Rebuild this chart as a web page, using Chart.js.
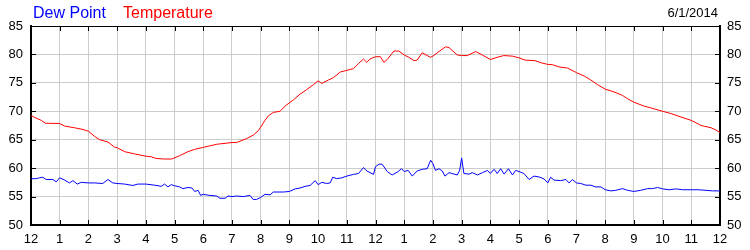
<!DOCTYPE html>
<html>
<head>
<meta charset="utf-8">
<script src="https://cdn.jsdelivr.net/npm/chart.js@4/dist/chart.umd.min.js"></script>
<style>
  html, body { margin: 0; padding: 0; background: #fff; }
</style>
</head>
<body>
<canvas id="line-chart" width="750" height="250"></canvas>
<script>
// hour-of-day labels along the bottom (0..24)
const hourLabels = ["12", "1", "2", "3", "4", "5", "6", "7", "8", "9", "10", "11",
  "12", "1", "2", "3", "4", "5", "6", "7", "8", "9", "10", "11", "12"];
const yTicks = [50, 55, 60, 65, 70, 75, 80, 85];

const tempHours = [0, 0.18, 0.36, 0.5, 1.0, 1.17, 1.52, 1.81, 2.0, 2.21, 2.39, 2.68, 2.91, 3.0,
  3.26, 3.61, 4.0, 4.19, 4.36, 4.65, 4.89, 5.0, 5.18, 5.47, 5.7, 6.0, 6.47, 7.0, 7.16, 7.51,
  7.74, 7.92, 8.0, 8.15, 8.27, 8.44, 8.67, 8.85, 9.0, 9.14, 9.37, 9.6, 9.84, 10.0, 10.13,
  10.36, 10.53, 10.77, 11.0, 11.23, 11.41, 11.58, 11.7, 11.81, 12.0, 12.17, 12.29, 12.41,
  12.64, 12.81, 13.0, 13.16, 13.34, 13.45, 13.63, 13.8, 13.92, 14.0, 14.21, 14.44, 14.56,
  14.85, 15.0, 15.2, 15.49, 15.72, 16.0, 16.24, 16.47, 16.77, 17.0, 17.21, 17.56, 17.79,
  18.0, 18.16, 18.4, 18.69, 19.0, 19.27, 19.5, 19.73, 20.0, 20.31, 20.6, 20.78, 21.0,
  21.36, 21.59, 22.0, 22.29, 22.64, 23.0, 23.34, 23.69, 23.86, 24.0];
const tempValues = [69.25, 68.8, 68.4, 67.9, 67.85, 67.4, 67.1, 66.8, 66.5, 65.6, 65.0, 64.6, 63.7, 63.6,
  62.9, 62.5, 62.1, 62.0, 61.7, 61.6, 61.6, 61.8, 62.2, 62.9, 63.3, 63.65, 64.2, 64.5, 64.5, 65.2,
  65.8, 66.6, 67.2, 68.4, 69.2, 69.8, 70.0, 70.9, 71.5, 72.0, 73.0, 73.8, 74.7, 75.35, 74.9,
  75.5, 75.9, 76.9, 77.2, 77.5, 78.4, 79.2, 78.6, 79.2, 79.6, 79.6, 78.6, 79.1,
  80.6, 80.6, 79.9, 79.5, 78.9, 79.0, 80.3, 79.8, 79.5, 79.7, 80.5, 81.35, 81.2,
  79.9, 79.8, 79.8, 80.5, 79.9, 79.1, 79.5, 79.8, 79.7, 79.4, 79.0, 78.9, 78.5,
  78.25, 78.2, 77.8, 77.6, 76.8, 76.2, 75.5, 74.7, 73.9, 73.4, 72.8, 72.2, 71.6,
  70.9, 70.6, 70.0, 69.6, 69.0, 68.4, 67.5, 67.1, 66.7, 66.3];

const dewHours = [0, 0.18, 0.3, 0.41, 0.53, 0.76, 0.88, 1.0, 1.17, 1.34, 1.46, 1.61, 1.75, 2.0,
  2.21, 2.5, 2.68, 2.85, 3.0, 3.26, 3.55, 3.72, 4.0, 4.31, 4.54, 4.65, 4.77, 4.89, 5.0, 5.18,
  5.29, 5.47, 5.61, 5.7, 5.82, 5.91, 6.0, 6.23, 6.47, 6.58, 6.76, 6.87, 7.0, 7.16, 7.4, 7.63,
  7.74, 7.86, 8.0, 8.15, 8.33, 8.44, 8.79, 9.0, 9.2, 9.37, 9.55, 9.72, 9.9, 10.0, 10.13, 10.3,
  10.42, 10.51, 10.65, 10.83, 11.0, 11.23, 11.41, 11.58, 11.7, 11.93, 12.0, 12.12, 12.23,
  12.41, 12.58, 12.76, 12.91, 13.0, 13.14, 13.28, 13.45, 13.63, 13.8, 13.92, 14.0, 14.09,
  14.21, 14.33, 14.42, 14.56, 14.67, 14.85, 14.93, 15.0, 15.08, 15.26, 15.37, 15.55, 15.72,
  15.9, 16.0, 16.13, 16.24, 16.36, 16.48, 16.63, 16.77, 16.88, 17.0, 17.17, 17.35, 17.52,
  17.7, 17.87, 18.0, 18.1, 18.22, 18.45, 18.63, 18.74, 18.86, 19.0, 19.15, 19.33, 19.5,
  19.67, 19.85, 20.0, 20.2, 20.37, 20.6, 20.78, 21.0, 21.24, 21.48, 21.65, 21.83, 22.0,
  22.23, 22.47, 22.7, 23.0, 23.22, 23.51, 23.74, 24.0];
const dewValues = [58.15, 58.15, 58.3, 58.4, 58.0, 58.0, 57.6, 58.3, 57.9, 57.4, 57.8, 57.2, 57.5, 57.4,
  57.4, 57.3, 58.0, 57.4, 57.3, 57.2, 56.95, 57.2, 57.2, 57.0, 56.8, 57.2, 56.7, 57.1, 56.9, 56.7,
  56.4, 56.6, 56.5, 55.9, 56.1, 55.2, 55.4, 55.2, 55.1, 54.7, 54.7, 55.1, 55.0, 55.1, 55.0, 55.2,
  54.5, 54.5, 54.85, 55.4, 55.3, 55.8, 55.8, 55.9, 56.35, 56.5, 56.8, 56.95, 57.8, 57.1, 57.5, 57.3,
  57.4, 58.4, 58.15, 58.3, 58.6, 58.9, 59.05, 60.1, 59.5, 58.9, 60.25, 60.7, 60.7,
  59.4, 58.8, 59.3, 59.9, 59.4, 59.6, 58.6, 59.5, 59.8, 59.9, 61.4, 60.8, 59.6,
  59.9, 59.5, 58.6, 59.2, 59.05, 58.8, 59.6, 61.8, 59.05, 58.95, 59.2, 58.8, 59.2,
  59.6, 59.05, 59.8, 59.05, 59.9, 58.95, 59.9, 58.8, 59.6, 59.4, 59.05, 58.0, 58.6,
  58.45, 58.1, 57.4, 58.4, 57.9, 57.8, 58.0, 57.4, 58.0, 57.4, 57.3, 57.0, 57.0,
  56.7, 56.7, 56.2, 56.0, 56.1, 56.4, 56.1, 55.9, 56.1, 56.4, 56.4, 56.6, 56.35,
  56.2, 56.35, 56.2, 56.2, 56.2, 56.1, 56.0, 56.0];

const FONT = "'Liberation Sans', Arial, sans-serif";

const toPoints = (xs, ys) => xs.map((x, i) => ({ x: x, y: ys[i] }));

// titles, date, top border and the inward tick marks
const decorations = {
  id: "decorations",
  afterDraw(chart) {
    const { ctx, chartArea: a, scales } = chart;
    ctx.save();
    ctx.textBaseline = "alphabetic";
    ctx.font = "16px " + FONT;
    ctx.textAlign = "left";
    ctx.fillStyle = "#0000ff";
    ctx.fillText("Dew Point", 33, 18);
    ctx.fillStyle = "#ff0000";
    ctx.fillText("Temperature", 123, 18);
    ctx.font = "13px " + FONT;
    ctx.textAlign = "right";
    ctx.fillStyle = "#000";
    ctx.fillText("6/1/2014", 718, 17);

    ctx.strokeStyle = "#000";
    ctx.lineWidth = 1;
    ctx.beginPath();
    ctx.moveTo(a.left, a.top + 0.5);
    ctx.lineTo(a.right, a.top + 0.5);
    for (let h = 0; h < hourLabels.length; h++) {
      const px = Math.round(scales.x.getPixelForValue(h)) + 0.5;
      ctx.moveTo(px, a.top);
      ctx.lineTo(px, a.top + 5);
      ctx.moveTo(px, a.bottom);
      ctx.lineTo(px, a.bottom - 5);
    }
    yTicks.forEach((v) => {
      const py = Math.round(scales.y.getPixelForValue(v)) + 0.5;
      ctx.moveTo(a.left, py);
      ctx.lineTo(a.left + 5, py);
      ctx.moveTo(a.right, py);
      ctx.lineTo(a.right - 5, py);
    });
    ctx.stroke();
    ctx.restore();
  },
};

const yAxis = (position, width, padding) => ({
  type: "linear",
  position: position,
  min: 50,
  max: 85,
  afterFit: (scale) => { scale.width = width; },
  afterBuildTicks: (scale) => { scale.ticks = yTicks.map((v) => ({ value: v })); },
  grid: { color: "#cccccc", drawTicks: false, display: position === "left" },
  border: { color: "#000", width: 2 },
  ticks: { color: "#000", padding: padding, font: { family: FONT, size: 13 } },
});

new Chart(document.getElementById("line-chart"), {
  type: "line",
  data: {
    datasets: [
      {
        label: "Temperature",
        data: toPoints(tempHours, tempValues),
        borderColor: "#ff0000",
        borderWidth: 1,
        pointRadius: 0,
        tension: 0,
        yAxisID: "y",
      },
      {
        label: "Dew Point",
        data: toPoints(dewHours, dewValues),
        borderColor: "#0000ff",
        borderWidth: 1,
        pointRadius: 0,
        tension: 0,
        yAxisID: "y",
      },
    ],
  },
  options: {
    responsive: false,
    animation: false,
    layout: { padding: { top: 26, left: 0, right: 0, bottom: 0 } },
    plugins: { legend: { display: false }, tooltip: { enabled: false } },
    scales: {
      x: {
        type: "linear",
        min: 0,
        max: 24,
        afterFit: (scale) => { scale.height = 25; },
        grid: { color: "#cccccc", drawTicks: false },
        border: { color: "#000", width: 2 },
        ticks: {
          stepSize: 1,
          color: "#000",
          padding: 7,
          maxRotation: 0,
          autoSkip: false,
          font: { family: FONT, size: 13 },
          callback: (value) => hourLabels[value],
        },
      },
      y: yAxis("left", 31, 8),
      y2: yAxis("right", 30, 7),
    },
  },
  plugins: [decorations],
});
</script>
</body>
</html>
